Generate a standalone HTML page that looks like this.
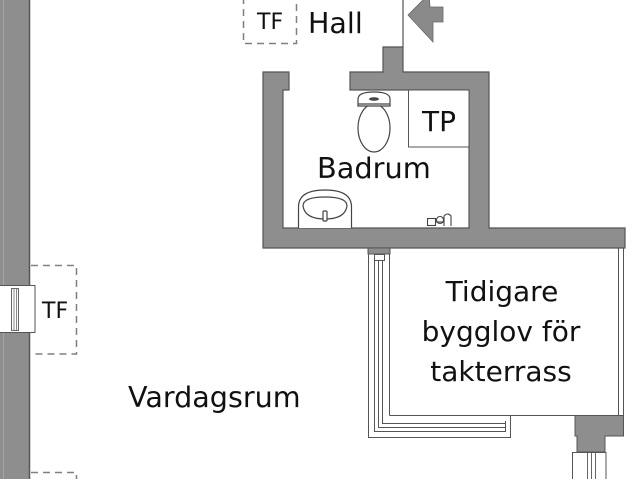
<!DOCTYPE html>
<html><head><meta charset="utf-8"><style>
html,body{margin:0;padding:0;background:#fff;}
svg{display:block;}
text{font-family:"DejaVu Sans","Liberation Sans",sans-serif;fill:#111;}
</style></head><body>
<svg width="640" height="479" viewBox="0 0 640 479" xmlns="http://www.w3.org/2000/svg">
<rect x="0" y="0" width="640" height="479" fill="#fff"/>
<!-- left wall -->
<rect x="0" y="-1" width="30" height="481" fill="#8e8e8e"/>
<line x1="3.5" y1="0" x2="3.5" y2="479" stroke="#a5a5a5" stroke-width="1"/>
<line x1="29.5" y1="0" x2="29.5" y2="479" stroke="#555" stroke-width="1.5"/>
<!-- left window -->
<rect x="-1" y="285.5" width="36" height="47" fill="#fff" stroke="#555" stroke-width="1"/>
<rect x="11.5" y="288.5" width="7" height="42" fill="none" stroke="#666" stroke-width="1"/>
<line x1="14" y1="289" x2="14" y2="330" stroke="#888" stroke-width="1"/>
<line x1="16.5" y1="289" x2="16.5" y2="330" stroke="#888" stroke-width="1"/>
<!-- dashed TF boxes -->
<g fill="none" stroke="#808080" stroke-width="1.5" stroke-dasharray="7,5">
<path d="M31,265.5 H76.5 V354 H31"/>
<path d="M31,472.5 H76.5 V480"/>
<path d="M243.5,-3 V43.5 H296.5 V-3"/>
</g>
<text x="257" y="29" font-size="22">TF</text>
<text x="42" y="318" font-size="22">TF</text>
<!-- bathroom walls -->
<path d="M263,72 H289 V90 H283 V228 H469 V90 H350 V72 H383 V47 H403 V72 H489 V228 H625 V248 H263 Z" fill="#8e8e8e" stroke="#555" stroke-width="1.2"/>
<!-- door line -->
<line x1="403" y1="0" x2="403" y2="47" stroke="#555" stroke-width="1.2"/>
<!-- entry arrow -->
<polygon points="408,15 429,-6 430,7 443,7 443,22 433,22 433,42" fill="#8a8a8a" stroke="#666" stroke-width="0.8"/>
<!-- TP box -->
<rect x="408.5" y="90" width="60.5" height="57" fill="#fff" stroke="#555" stroke-width="1"/>
<!-- toilet -->
<g fill="#fff" stroke="#444" stroke-width="1.2">
<ellipse cx="374" cy="128" rx="16" ry="24"/>
<path d="M358,106 V99 Q358,92 374,92 Q390,92 390,99 V106 Z"/>
<line x1="358" y1="104" x2="390" y2="104"/>
</g>
<ellipse cx="374" cy="99" rx="5" ry="1.8" fill="#444"/>
<!-- sink -->
<g fill="#fff" stroke="#444" stroke-width="1.2">
<path d="M298.5,228 V207 Q298.5,190 325,190 Q351.5,190 351.5,207 V228"/>
<path d="M303,206 Q303,197 325,197 Q347,197 347,206 Q345,219 325,219 Q305,219 303,206 Z"/>
<rect x="323" y="211" width="4" height="10" rx="1"/>
</g>
<!-- faucet-ish fixture -->
<g fill="none" stroke="#444" stroke-width="1.1">
<rect x="427.5" y="218.5" width="8" height="7"/>
<circle cx="440" cy="220" r="3.5"/>
<path d="M444,226 V216 Q448,212 451,216 V226"/>
<line x1="436" y1="222" x2="444" y2="222"/>
</g>
<!-- terrace -->
<g fill="none" stroke="#555" stroke-width="1">
<line x1="389.5" y1="248" x2="389.5" y2="415.5"/>
<line x1="389.5" y1="415.5" x2="575" y2="415.5"/>
<line x1="618.5" y1="248" x2="618.5" y2="415"/>
<line x1="623.5" y1="248" x2="623.5" y2="415"/>
<path d="M368.5,254 V437.5 H510.5 V415.5"/>
<path d="M374.5,260 V431.5 H505.5"/>
<path d="M378.5,260 V427.5 H505.5"/>
<path d="M382.5,260 V423.5 H505.5"/>
<line x1="505.5" y1="421" x2="505.5" y2="432"/>
</g>
<rect x="368" y="248" width="22" height="6" fill="#8e8e8e" stroke="#555" stroke-width="1"/>
<rect x="374.5" y="254.5" width="10" height="6" fill="#fff" stroke="#555" stroke-width="1"/>
<!-- lower right block -->
<path d="M575,415.5 H623.5 V436 H605 V452 H577 V436 H575 Z" fill="#8e8e8e" stroke="#555" stroke-width="1"/>
<rect x="572.5" y="452.5" width="33.5" height="30" fill="#fff" stroke="#555" stroke-width="1"/>
<line x1="587.5" y1="453" x2="587.5" y2="479" stroke="#666" stroke-width="1"/>
<line x1="591.5" y1="453" x2="591.5" y2="479" stroke="#666" stroke-width="1"/>
<line x1="595.5" y1="453" x2="595.5" y2="479" stroke="#666" stroke-width="1"/>
<!-- labels -->
<text x="308" y="33" font-size="28.5">Hall</text>
<text x="422" y="131" font-size="28">TP</text>
<text x="317" y="178" font-size="28.8">Badrum</text>
<text x="128" y="407" font-size="28.6">Vardagsrum</text>
<text x="502" y="301" font-size="28" text-anchor="middle">Tidigare</text>
<text x="501" y="341" font-size="28" text-anchor="middle">bygglov för</text>
<text x="501" y="381" font-size="28" text-anchor="middle">takterrass</text>
</svg>
</body></html>
